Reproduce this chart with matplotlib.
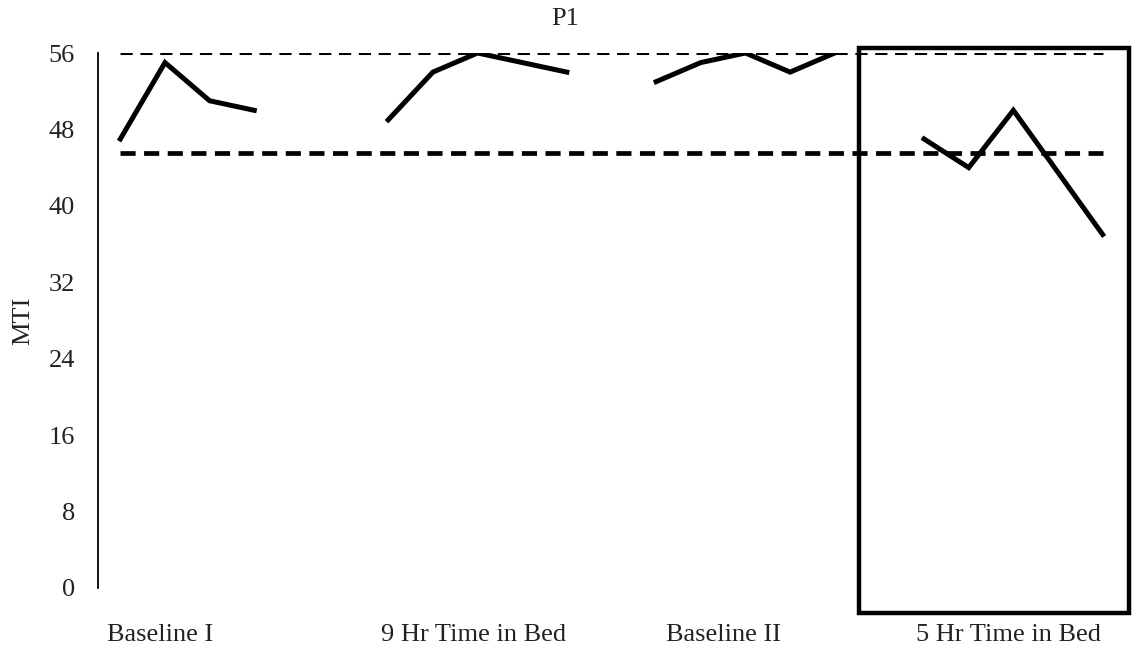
import matplotlib
matplotlib.use("Agg")
import matplotlib.pyplot as plt
import numpy as np
from matplotlib.patches import Rectangle

plt.rcParams['font.family'] = ['Liberation Serif', 'DejaVu Serif']

# Data (None = gap between phases)
mti = [47, 55, 51, 50, None, None,
       49, 54, 56, 55, 54, None,
       53, 55, 56, 54, 56, None,
       47, 44, 50, 43.5, 37]
upper_ref = 56
lower_ref = 45.5
phase_labels = ["Baseline I", "9 Hr Time in Bed", "Baseline II", "5 Hr Time in Bed"]
phase_label_pos = [0.9, 7.9, 13.5, 19.9]
yticks = [0, 8, 16, 24, 32, 40, 48, 56]

x = np.arange(len(mti))
y = np.array([np.nan if v is None else v for v in mti], dtype=float)

W, H = 1133, 649
fig = plt.figure(figsize=(W/100, H/100), dpi=100)
ax = fig.add_axes([98/W, 1-588/H, (1125-98)/W, (588-53)/H])

txtc = '#222222'
fs = 19

ax.plot([x[0], x[-1]], [upper_ref, upper_ref], color='black', lw=2.2,
        ls=(0, (4, 2.5)), dash_capstyle='butt')
ax.plot([x[0], x[-1]], [lower_ref, lower_ref], color='black', lw=3.4,
        ls=(0, (3.2, 1.8)), dash_capstyle='butt')
ax.plot(x, y, color='black', lw=3.6, solid_joinstyle='miter')

ax.set_xlim(-0.5, len(mti) - 0.5)
ax.set_ylim(0, 56)
ax.set_yticks(yticks)
ax.set_yticklabels([str(t) for t in yticks], fontsize=fs, color=txtc)
ax.tick_params(axis='y', length=0, pad=16.5)
ax.set_xticks([])
for s in ['top', 'right', 'bottom']:
    ax.spines[s].set_visible(False)
ax.spines['left'].set_linewidth(1.3)

for lab, p in zip(phase_labels, phase_label_pos):
    ax.text(p, -4.95, lab, ha='center', va='center', fontsize=fs, color=txtc)

fig.text(23/W, 1-321/H, "MTI", rotation=90, ha='center', va='center',
         fontsize=fs, color=txtc)
fig.text(565/W, 1-19/H, "P1", ha='center', va='center', fontsize=fs, color=txtc)

rect = Rectangle((16.55, -2.6), 6.05, 59.1, fill=False, edgecolor='black',
                 lw=3.2, clip_on=False, transform=ax.transData)
ax.add_patch(rect)

fig.savefig("out.png", dpi=100)
